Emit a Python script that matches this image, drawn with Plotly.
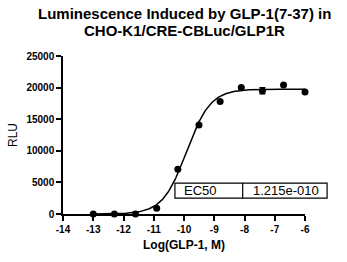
import numpy as np
import plotly.graph_objects as go

# Data (log molar concentration, RLU)
log_conc = [-13.0, -12.301, -11.602, -10.903, -10.204, -9.505, -8.806, -8.107, -7.408, -6.709, -6.0]
rlu = [0, 0, 0, 900, 7100, 14100, 17800, 20000, 19500, 20400, 19300]
rlu_err = [0, 0, 0, 0, 0, 0, 0, 0, 500, 0, 0]

# 4PL fit parameters
fit_bottom = 0
fit_top = 19750
fit_logec50 = np.log10(1.215e-10)
fit_hill = 1.1

ec50_label = "EC50"
ec50_text = "1.215e-010"

title_lines = ["Luminescence Induced by GLP-1(7-37) in", "CHO-K1/CRE-CBLuc/GLP1R"]

x_ticks = [-14, -13, -12, -11, -10, -9, -8, -7, -6]
y_ticks = [0, 5000, 10000, 15000, 20000, 25000]

X_RANGE = [-14, -6]
Y_RANGE = [0, 25000]

W, H = 347, 262
M_L, M_R, M_T, M_B = 63, 42, 56, 48
PLOT_H = H - M_T - M_B

FONT = "Liberation Sans, Arial"

xf = np.linspace(min(log_conc), max(log_conc), 300)
yf = fit_bottom + (fit_top - fit_bottom) / (1 + 10 ** ((fit_logec50 - xf) * fit_hill))

fig = go.Figure()
fig.add_trace(go.Scatter(x=xf, y=yf, mode="lines",
                         line=dict(color="black", width=1.5), hoverinfo="skip",
                         cliponaxis=False))
fig.add_trace(go.Scatter(x=log_conc, y=rlu, mode="markers",
                         marker=dict(color="black", size=7),
                         error_y=dict(type="data", array=rlu_err, color="black",
                                      thickness=1.2, width=3),
                         cliponaxis=False))


def px(v):
    return (v - X_RANGE[0]) / (X_RANGE[1] - X_RANGE[0])


def py(v):
    return (v - Y_RANGE[0]) / (Y_RANGE[1] - Y_RANGE[0])


def py_pixel(ypix):
    return (H - M_B - ypix) / PLOT_H


# EC50 table box (extends beyond plot area, so paper coords)
box_x0, box_xm, box_x1 = -10.3, -8.06, -5.27
box_y0, box_y1 = 2500, 4900
fig.add_shape(type="rect", x0=px(box_x0), x1=px(box_x1), y0=py(box_y0), y1=py(box_y1),
              xref="paper", yref="paper", line=dict(color="black", width=1.2),
              fillcolor="white", layer="above")
fig.add_shape(type="line", x0=px(box_xm), x1=px(box_xm), y0=py(box_y0), y1=py(box_y1),
              xref="paper", yref="paper", line=dict(color="black", width=1.2))
fig.add_annotation(x=px(box_x0) + 0.03, y=py((box_y0 + box_y1) / 2), text=ec50_label,
                   xref="paper", yref="paper", showarrow=False,
                   xanchor="left", yanchor="middle",
                   font=dict(family=FONT, size=13, color="black"))
fig.add_annotation(x=px(box_xm) + 0.035, y=py((box_y0 + box_y1) / 2), text=ec50_text,
                   xref="paper", yref="paper", showarrow=False,
                   xanchor="left", yanchor="middle",
                   font=dict(family=FONT, size=13, color="black"))

# Title (two lines with tight spacing)
for txt, ypix in zip(title_lines, [14, 30]):
    fig.add_annotation(x=0.5, y=py_pixel(ypix), text=f"<b>{txt}</b>",
                       xref="paper", yref="paper", showarrow=False,
                       xanchor="center", yanchor="middle",
                       font=dict(family=FONT, size=15, color="black"))

fig.update_layout(
    width=W, height=H,
    margin=dict(l=M_L, r=M_R, t=M_T, b=M_B),
    paper_bgcolor="white", plot_bgcolor="white",
    showlegend=False,
    font=dict(family=FONT, color="black"),
)
fig.update_xaxes(range=X_RANGE, tickvals=x_ticks,
                 ticktext=[f"<b>{v}</b>" for v in x_ticks],
                 showline=True, linecolor="black", linewidth=1.5,
                 ticks="outside", ticklen=5, tickwidth=1.5, tickcolor="black",
                 showgrid=False, zeroline=False,
                 tickfont=dict(size=10, family=FONT, color="black"),
                 title=dict(text="<b>Log(GLP-1, M)</b>", standoff=7,
                            font=dict(size=12, family=FONT, color="black")))
fig.update_yaxes(range=Y_RANGE, tickvals=y_ticks,
                 ticktext=[f"<b>{v}</b>" for v in y_ticks],
                 showline=True, linecolor="black", linewidth=1.5,
                 ticks="outside", ticklen=5, tickwidth=1.5, tickcolor="black",
                 showgrid=False, zeroline=False,
                 tickfont=dict(size=10, family=FONT, color="black"),
                 title=dict(text="RLU", standoff=6,
                            font=dict(size=12, family=FONT, color="black")))

fig.write_html("out.html")
